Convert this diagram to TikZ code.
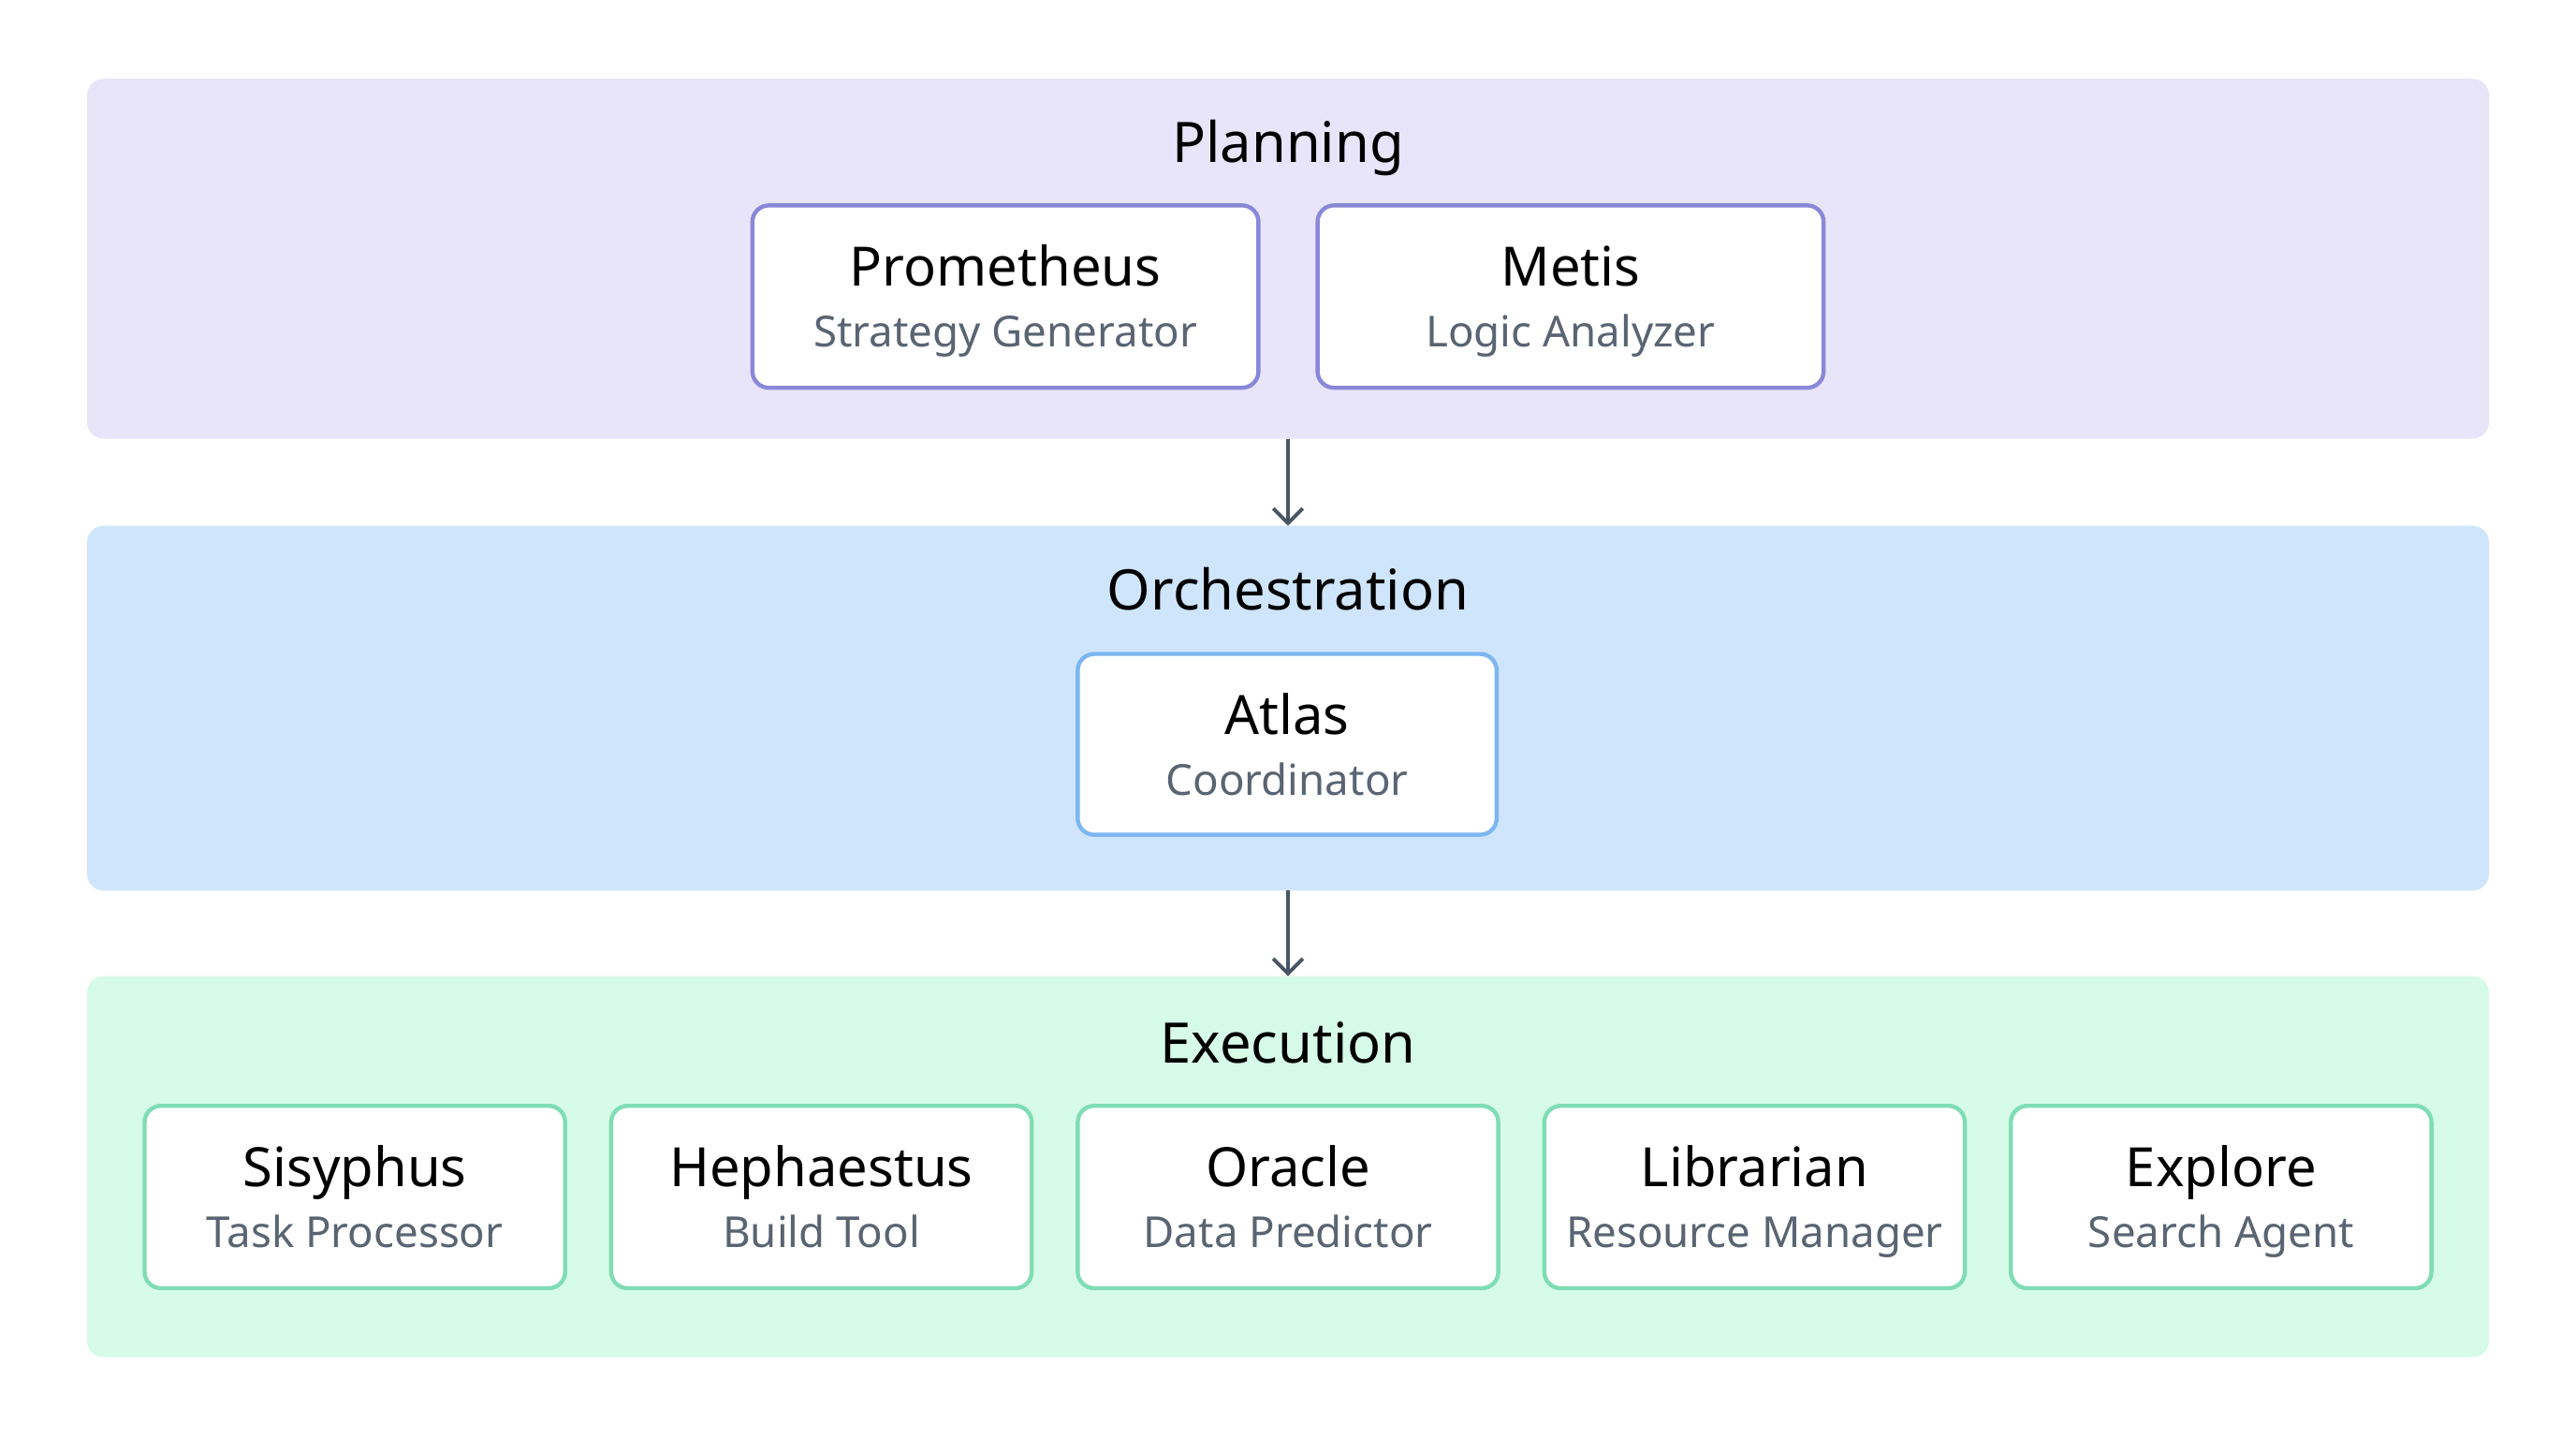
\documentclass[tikz,border=0pt]{standalone}
\usepackage{fontspec}
\setmainfont{Noto Sans}
\usetikzlibrary{arrows.meta}
\definecolor{pbg}{HTML}{E8E4FA}\definecolor{pbd}{HTML}{8B87D8}
\definecolor{obg}{HTML}{CFE5FC}\definecolor{obd}{HTML}{7DB6F0}
\definecolor{ebg}{HTML}{D7FBE9}\definecolor{ebd}{HTML}{7FDDB5}
\definecolor{sub}{HTML}{5A6472}\definecolor{arr}{HTML}{4A5566}
\begin{document}
\begin{tikzpicture}[x=1pt,y=-1pt,
  panel/.style={rounded corners=10pt},
  ttl/.style={anchor=base,font=\fontsize{34}{40}\selectfont},
  box/.style={draw,line width=2.5pt,fill=white,rounded corners=10pt},
  nm/.style={anchor=base,font=\fontsize{33}{38}\selectfont},
  sb/.style={anchor=base,font=\fontsize{26}{30}\selectfont,text=sub},
  ar/.style={draw=arr,line width=2.2pt,-{Straight Barb[length=9pt,width=18pt]}}]
\useasboundingbox (0,0) rectangle (1568,875);
\fill[white] (0,0) rectangle (1568,875);
\fill[pbg,panel] (53,48) rectangle (1515,267);
\fill[obg,panel] (53,320) rectangle (1515,542);
\fill[ebg,panel] (53,594) rectangle (1515,826);
\coordinate (p) at (784,267); \coordinate (o1) at (784,320);
\coordinate (o2) at (784,542); \coordinate (e) at (784,594);
\node[ttl] (tp) at (784,99) {Planning};
\node[ttl] (to) at (784,371) {Orchestration};
\node[ttl] (te) at (784,647) {Execution};
\newcommand{\mybox}[8]{%
  \draw[box,draw=#1] (#2,#3) rectangle (#4,#5);
  \node[nm] (#6) at ({(#2+#4)/2},{#3+49}) {#7};
  \node[sb] (#6s) at ({(#2+#4)/2},{#3+86}) {#8};}
\mybox{pbd}{458}{125}{766}{236}{prom}{Prometheus}{Strategy Generator}
\mybox{pbd}{802}{125}{1110}{236}{metis}{Metis}{Logic Analyzer}
\mybox{obd}{656}{398}{911}{508}{atlas}{Atlas}{Coordinator}
\mybox{ebd}{88}{673}{344}{784}{sis}{Sisyphus}{Task Processor}
\mybox{ebd}{372}{673}{628}{784}{hep}{Hephaestus}{Build Tool}
\mybox{ebd}{656}{673}{912}{784}{ora}{Oracle}{Data Predictor}
\mybox{ebd}{940}{673}{1196}{784}{lib}{Librarian}{Resource Manager}
\mybox{ebd}{1224}{673}{1480}{784}{exp}{Explore}{Search Agent}
\draw[ar] (p) -- (o1);
\draw[ar] (o2) -- (e);
\end{tikzpicture}
\end{document}
